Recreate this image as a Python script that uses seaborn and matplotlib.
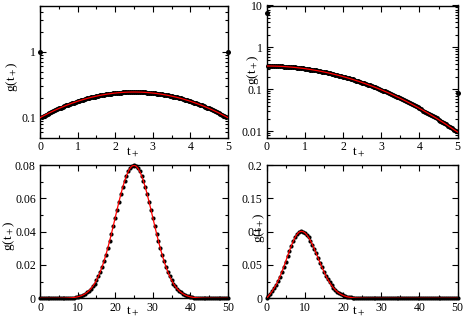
import numpy as np
import matplotlib
matplotlib.use("Agg")
import matplotlib.pyplot as plt
import seaborn as sns
from matplotlib.ticker import MultipleLocator, LogLocator, FuncFormatter, NullFormatter

# sampling grids of the four panels
t_top = np.linspace(0.0, 5.0, 101)
t_bot = np.linspace(0.0, 50.0, 101)

# top left: symmetric bump on a log axis
g_tl = [
    0.1000, 0.1039, 0.1075, 0.1112, 0.1150, 0.1188, 0.1226, 0.1265, 0.1304, 0.1344,
    0.1383, 0.1423, 0.1462, 0.1502, 0.1542, 0.1582, 0.1622, 0.1661, 0.1700, 0.1739,
    0.1778, 0.1816, 0.1853, 0.1890, 0.1927, 0.1962, 0.1997, 0.2031, 0.2064, 0.2096,
    0.2127, 0.2157, 0.2185, 0.2213, 0.2239, 0.2264, 0.2288, 0.2310, 0.2331, 0.2351,
    0.2368, 0.2385, 0.2399, 0.2412, 0.2423, 0.2433, 0.2441, 0.2447, 0.2451, 0.2454,
    0.2455,
    0.2454, 0.2451, 0.2447, 0.2441, 0.2433, 0.2423, 0.2412, 0.2399, 0.2385, 0.2368,
    0.2351, 0.2331, 0.2310, 0.2288, 0.2264, 0.2239, 0.2213, 0.2185, 0.2157, 0.2127,
    0.2096, 0.2064, 0.2031, 0.1997, 0.1962, 0.1927, 0.1890, 0.1853, 0.1816, 0.1778,
    0.1739, 0.1700, 0.1661, 0.1622, 0.1582, 0.1542, 0.1502, 0.1462, 0.1423, 0.1383,
    0.1344, 0.1304, 0.1265, 0.1226, 0.1188, 0.1150, 0.1112, 0.1075, 0.1039, 0.1000,
]

# top right: decaying curve on a log axis
g_tr = [
    0.3600, 0.3599, 0.3595, 0.3588, 0.3579, 0.3567, 0.3553, 0.3536, 0.3517, 0.3495,
    0.3471, 0.3445, 0.3416, 0.3385, 0.3352, 0.3317, 0.3280, 0.3241, 0.3200, 0.3157,
    0.3112, 0.3066, 0.3018, 0.2969, 0.2919, 0.2867, 0.2815, 0.2761, 0.2706, 0.2651,
    0.2594, 0.2537, 0.2480, 0.2422, 0.2364, 0.2305, 0.2247, 0.2188, 0.2129, 0.2070,
    0.2012, 0.1954, 0.1896, 0.1838, 0.1781, 0.1724, 0.1668, 0.1612, 0.1558, 0.1504,
    0.1450, 0.1398, 0.1346, 0.1296, 0.1247, 0.1198, 0.1151, 0.1105, 0.1060, 0.1016,
    0.0973, 0.0931, 0.0891, 0.0851, 0.0813, 0.0776, 0.0740, 0.0705, 0.0671, 0.0638,
    0.0607, 0.0576, 0.0547, 0.0519, 0.0491, 0.0465, 0.0441, 0.0417, 0.0394, 0.0372,
    0.0351, 0.0331, 0.0312, 0.0294, 0.0277, 0.0260, 0.0244, 0.0229, 0.0215, 0.0202,
    0.0189, 0.0177, 0.0166, 0.0155, 0.0145, 0.0135, 0.0126, 0.0117, 0.0109, 0.0102,
    0.0095,
]

# stray points sitting on the edges of the top panels
edge_t = [0.0, 5.0]
edge_g_tl = [1.0, 1.0]
edge_g_tr = [6.6, 0.083]

# bottom left: bell curve around 25
g_bl = [
    0.0, 0.0, 0.0, 0.0, 0.0, 0.0, 0.0, 0.00001, 0.00001, 0.00002,
    0.00003, 0.00004, 0.00006, 0.00008, 0.00012, 0.00017, 0.00025, 0.00034, 0.00048, 0.00065,
    0.00089, 0.00119, 0.00158, 0.00208, 0.00272, 0.00351, 0.00448, 0.00567, 0.00710, 0.00880,
    0.01080, 0.01312, 0.01579, 0.01881, 0.02218, 0.02590, 0.02995, 0.03428, 0.03884, 0.04357,
    0.04840, 0.05322, 0.05794, 0.06245, 0.06665, 0.07041, 0.07366, 0.07628, 0.07821, 0.07939,
    0.07979, 0.07939, 0.07821, 0.07628, 0.07366, 0.07041, 0.06665, 0.06245, 0.05794, 0.05322,
    0.04840, 0.04357, 0.03884, 0.03428, 0.02995, 0.02590, 0.02218, 0.01881, 0.01579, 0.01312,
    0.01080, 0.00880, 0.00710, 0.00567, 0.00448, 0.00351, 0.00272, 0.00208, 0.00158, 0.00119,
    0.00089, 0.00065, 0.00048, 0.00034, 0.00025, 0.00017, 0.00012, 0.00008, 0.00006, 0.00004,
    0.00003, 0.00002, 0.00001, 0.00001, 0.0, 0.0, 0.0, 0.0, 0.0, 0.0,
    0.0,
]

# bottom right: skewed peak around 9
g_br = [
    0.0, 0.0033, 0.0068, 0.0109, 0.0153, 0.0203, 0.0260, 0.0324, 0.0394, 0.0470,
    0.0550, 0.0633, 0.0713, 0.0789, 0.0859, 0.0917, 0.0962, 0.0992, 0.1005, 0.1001,
    0.0984, 0.0954, 0.0914, 0.0864, 0.0806, 0.0741, 0.0673, 0.0604, 0.0534, 0.0467,
    0.0402, 0.0342, 0.0287, 0.0238, 0.0194, 0.0157, 0.0125, 0.0098, 0.0076, 0.0058,
    0.0044, 0.0033, 0.0024, 0.0018, 0.0013, 0.0009, 0.0006, 0.0004, 0.0003, 0.0002,
    0.0001, 0.0001, 0.0001, 0.0, 0.0, 0.0, 0.0, 0.0, 0.0, 0.0,
    0.0, 0.0, 0.0, 0.0, 0.0, 0.0, 0.0, 0.0, 0.0, 0.0,
    0.0, 0.0, 0.0, 0.0, 0.0, 0.0, 0.0, 0.0, 0.0, 0.0,
    0.0, 0.0, 0.0, 0.0, 0.0, 0.0, 0.0, 0.0, 0.0, 0.0,
    0.0, 0.0, 0.0, 0.0, 0.0, 0.0, 0.0, 0.0, 0.0, 0.0,
    0.0,
]

sns.set_theme(style="ticks", rc={
    "axes.edgecolor": "black",
    "axes.labelcolor": "black",
    "text.color": "black",
    "xtick.color": "black",
    "ytick.color": "black",
    "axes.linewidth": 1.0,
    "xtick.direction": "in",
    "ytick.direction": "in",
    "xtick.top": True,
    "ytick.right": True,
    "xtick.major.size": 4.5,
    "ytick.major.size": 4.5,
    "xtick.minor.size": 2.5,
    "ytick.minor.size": 2.5,
    "xtick.major.width": 0.8,
    "ytick.major.width": 0.8,
    "xtick.minor.width": 0.8,
    "ytick.minor.width": 0.8,
    "xtick.major.pad": 2.5,
    "ytick.major.pad": 3.0,
    "xtick.labelsize": 8.5,
    "ytick.labelsize": 8.5,
    "axes.labelsize": 9.5,
})
plt.rcParams["font.family"] = ["Liberation Serif", "DejaVu Serif"]
plt.rcParams["mathtext.fontset"] = "stix"

W, H = 463, 319
fig = plt.figure(figsize=(W / 100, H / 100), dpi=100)
fmt = FuncFormatter(lambda v, p: f"{v:g}")


def px_rect(left, top, right, bottom):
    return [left / W, 1 - bottom / H, (right - left) / W, (bottom - top) / H]


def draw_panel(rect, t, g, pts_t, pts_g, log=False, size=8):
    ax = fig.add_axes(rect)
    if log:
        ax.set_yscale("log")
    sns.scatterplot(x=pts_t, y=pts_g, ax=ax, color="black", s=size,
                    linewidth=0, zorder=2, legend=False, clip_on=False)
    sns.lineplot(x=t, y=g, ax=ax, color="red", lw=0.9, zorder=3,
                 estimator=None, sort=False)
    ax.set_xlabel("t$_+$")
    ax.set_ylabel("g(t$_+$)")
    ax.xaxis.label.set_va("center")
    ax.yaxis.label.set_va("center")
    return ax


# top left
ax1 = draw_panel(px_rect(40, 5.5, 228, 137.7), t_top, g_tl,
                 list(t_top[1:-1]) + edge_t, g_tl[1:-1] + edge_g_tl,
                 log=True, size=13)
ax1.set_xlim(0, 5)
ax1.set_ylim(0.05, 5)

# top right
ax2 = draw_panel(px_rect(266.5, 5.5, 457.7, 137.7), t_top, g_tr,
                 list(t_top[1:-1]) + edge_t, g_tr[1:-1] + edge_g_tr,
                 log=True, size=13)
ax2.set_xlim(0, 5)
ax2.set_ylim(0.007, 10)

for ax in (ax1, ax2):
    ax.xaxis.set_major_locator(MultipleLocator(1))
    ax.xaxis.set_minor_locator(MultipleLocator(0.5))
    ax.yaxis.set_major_locator(LogLocator(base=10))
    ax.yaxis.set_minor_locator(LogLocator(base=10, subs=np.arange(2, 10)))
    ax.yaxis.set_major_formatter(fmt)
    ax.yaxis.set_minor_formatter(NullFormatter())

# bottom left
ax3 = draw_panel(px_rect(40, 165, 228, 298.3), t_bot, g_bl, t_bot, g_bl, size=9)
ax3.set_xlim(0, 50)
ax3.set_ylim(0, 0.08)
ax3.yaxis.set_major_locator(MultipleLocator(0.02))
ax3.yaxis.set_minor_locator(MultipleLocator(0.01))

# bottom right
ax4 = draw_panel(px_rect(266.5, 165, 457.7, 298.3), t_bot, g_br, t_bot, g_br, size=9)
ax4.set_xlim(0, 50)
ax4.set_ylim(0, 0.2)
ax4.yaxis.set_major_locator(MultipleLocator(0.05))
ax4.yaxis.set_minor_locator(MultipleLocator(0.025))

for ax in (ax3, ax4):
    ax.xaxis.set_major_locator(MultipleLocator(10))
    ax.xaxis.set_minor_locator(MultipleLocator(5))
    ax.yaxis.set_major_formatter(fmt)

for ax in (ax1, ax2, ax3, ax4):
    ax.xaxis.set_major_formatter(fmt)

# label spots, in axes fractions
ax1.yaxis.set_label_coords(-0.15, 0.46)
ax2.yaxis.set_label_coords(-0.068, 0.51)
ax3.yaxis.set_label_coords(-0.165, 0.47)
ax4.yaxis.set_label_coords(-0.038, 0.53)
ax1.xaxis.set_label_coords(0.495, -0.11)
ax2.xaxis.set_label_coords(0.48, -0.11)
ax3.xaxis.set_label_coords(0.493, -0.10)
ax4.xaxis.set_label_coords(0.48, -0.10)

fig.savefig("out.png", dpi=100)
